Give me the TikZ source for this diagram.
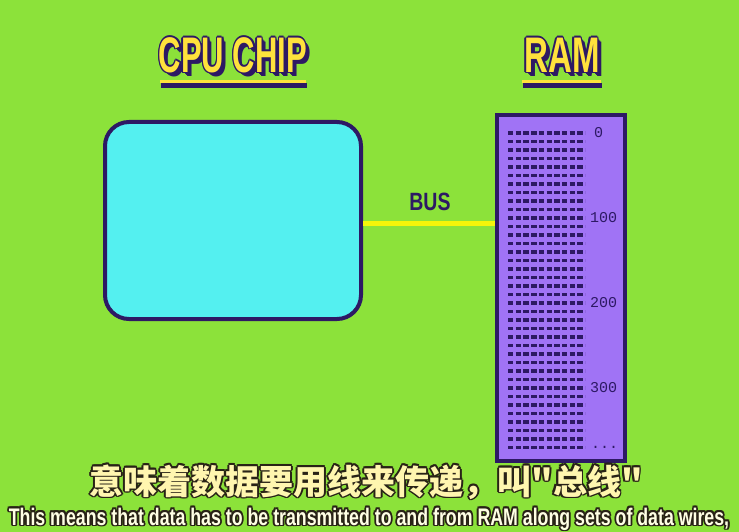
\documentclass[tikz,border=0pt]{standalone}
\usepackage{fontspec}
\setmainfont{Liberation Sans}
\newfontfamily\cjk{Noto Sans CJK SC}
\newfontfamily\monofnt{Liberation Mono}
\usepackage{xcolor}
\usepackage{tikz}
\usetikzlibrary{positioning}
\usetikzlibrary{calc}

\definecolor{bggreen}{RGB}{140,226,58}
\definecolor{inkpurple}{RGB}{45,25,100}
\definecolor{chipcyan}{RGB}{84,240,240}
\definecolor{rampurple}{RGB}{160,115,245}
\definecolor{titleyellow}{RGB}{255,226,60}
\definecolor{busyellow}{RGB}{245,245,10}
\definecolor{subyellow}{RGB}{255,246,175}
\definecolor{subwhite}{RGB}{255,255,228}
\definecolor{subdark}{RGB}{40,34,22}

\tikzset{
  title/.style={font=\fontsize{50}{50}\selectfont\bfseries, text=titleyellow, inner sep=0pt},
  chipbox/.style={draw=inkpurple, line width=4pt, fill=chipcyan, rounded corners=24pt,
    minimum width=256pt, minimum height=197pt, inner sep=0pt},
  rambox/.style={draw=inkpurple, line width=4.5pt, fill=rampurple,
    minimum width=128pt, minimum height=346pt, inner sep=0pt},
  busline/.style={busyellow, line width=5pt},
  buslabel/.style={font=\fontsize{25}{25}\selectfont\bfseries, text=inkpurple, inner sep=0pt},
  cellrow/.style={inkpurple, line width=3.2pt, dash pattern=on 5.4pt off 2.3pt},
  addr/.style={font=\monofnt\fontsize{15}{15}\selectfont, text=inkpurple, inner sep=0pt, anchor=west},
  cnsub/.style={font=\cjk\bfseries\fontsize{34}{34}\selectfont, text=subyellow, inner sep=0pt},
  ensub/.style={font=\bfseries\fontsize{24}{24}\selectfont, text=subwhite, inner sep=0pt, anchor=base}
}

% yellow title with purple rim and drop shadow
\newcommand{\titletext}[3]{%
  \foreach \s in {2,3,4}{%
    \node[title, text=inkpurple] at ($(#1)+(\s,\s)$) {#3};}
  \foreach \a in {0,45,...,315}{%
    \node[title, text=inkpurple] at ($(#1)+(\a:1.6)$) {#3};}
  \node[title] (#2) at (#1) {#3};
}
% subtitle with dark rim
\newcommand{\subtext}[4]{%
  \foreach \a in {0,45,...,315}{%
    \node[#3, text=subdark] at ($(#1)+(\a:1.8)$) {#4};}
  \node[#3] (#2) at (#1) {#4};
}

\begin{document}
\begin{tikzpicture}[x=1pt,y=-1pt]
\useasboundingbox (0,0) rectangle (739,532);
\fill[bggreen] (0,0) rectangle (739,532);
%%%%%%%%%%%%%%
\titletext{233,55}{cputitle}{\scalebox{0.62}[1]{CPU CHIP}}
\titletext{562,55}{ramtitle}{\scalebox{0.66}[1]{RAM}}
\fill[inkpurple] (161,83.5) rectangle (307,88.5);
\fill[titleyellow] (160,80.5) rectangle (306,83.5);
\fill[inkpurple] (523,83.5) rectangle (602,88.5);
\fill[titleyellow] (522,80.5) rectangle (601,83.5);
%%%%%%%%%%%%%%
\node[chipbox] (cpu) at (233,220.5) {};
\node[rambox] (ram) at (561,288) {};
\coordinate (busin) at ([yshift=-2.5pt]cpu.east);
\draw[busline] (busin) -- (busin -| ram.west);
\node[buslabel] (bus) at (430,202) {\scalebox{0.78}[1]{BUS}};
%%%%%%%%%%%%%%
\foreach \r in {0,...,37}
  \draw[cellrow] (508,{133+8.5*\r}) -- (585,{133+8.5*\r});
\node[addr] (a0) at (594,133) {0};
\node[addr] (a100) at (590,218) {100};
\node[addr] (a200) at (590,303) {200};
\node[addr] (a300) at (590,388) {300};
\node[addr] (adots) at (591,447.5) {...};
%%%%%%%%%%%%%%
\subtext{366,482}{cnline}{cnsub}{意味着数据要用线来传递，叫"总线"}
\subtext{369,525}{enline}{ensub}{\scalebox{0.74}[1]{This means that data has to be transmitted to and from RAM along sets of data wires,}}
\end{tikzpicture}
\end{document}
